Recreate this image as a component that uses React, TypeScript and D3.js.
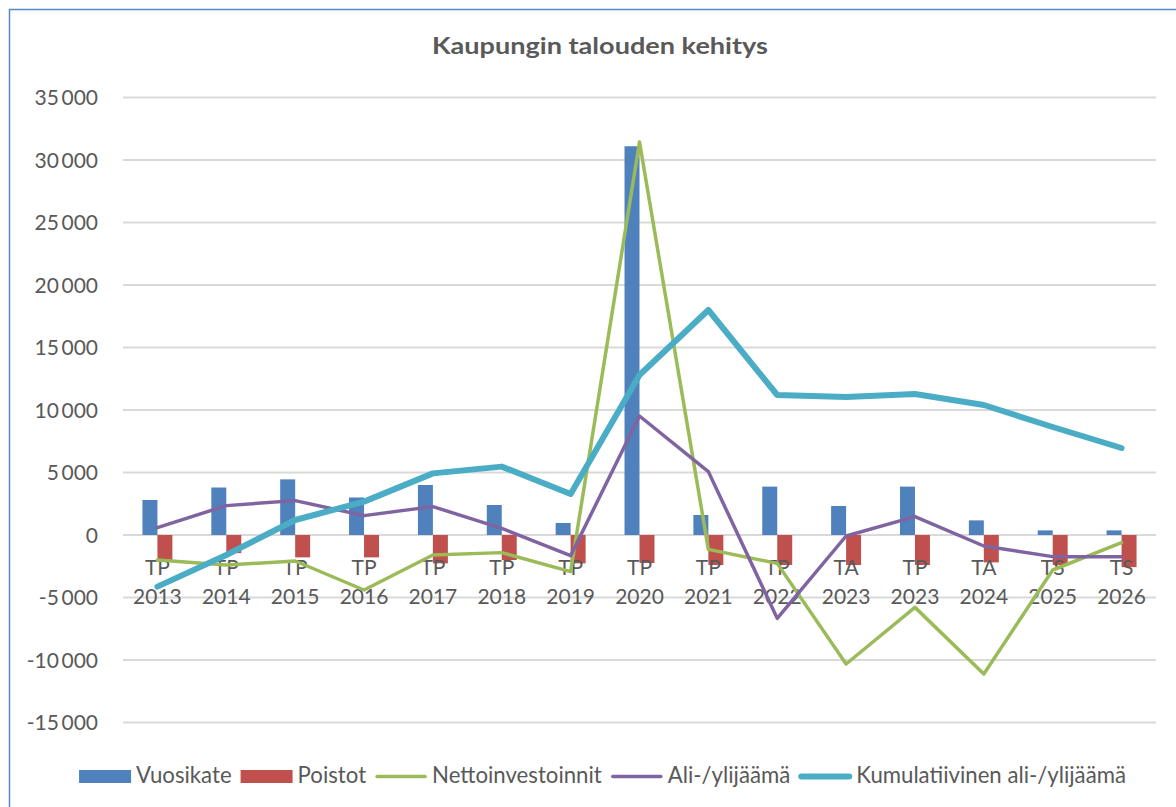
import React, { useRef, useEffect } from "react";
import * as d3 from "d3";

const periods = ["TP", "TP", "TP", "TP", "TP", "TP", "TP", "TP", "TP", "TP", "TA", "TP", "TA", "TS", "TS"];
const years = ["2013", "2014", "2015", "2016", "2017", "2018", "2019", "2020", "2021", "2022", "2023", "2023", "2024", "2025", "2026"];

const vuosikate = [2800, 3800, 4450, 3000, 4000, 2400, 960, 31100, 1600, 3870, 2320, 3870, 1170, 370, 370];
const poistot = [-2100, -1450, -1790, -1790, -2270, -2000, -2270, -2240, -2400, -2400, -2400, -2400, -2190, -2400, -2570];
const nettoinvestoinnit = [-2000, -2400, -2080, -4400, -1600, -1410, -2930, 31440, -1150, -2270, -10320, -5790, -11120, -2800, -610];
const alijaama = [590, 2350, 2750, 1550, 2270, 530, -1650, 9520, 5070, -6670, -80, 1470, -880, -1730, -1730];
const kumulatiivinen = [-4130, -1600, 1200, 2670, 4930, 5470, 3280, 12800, 18000, 11200, 11040, 11280, 10400, 8640, 6960];

const yTicks = [-15000, -10000, -5000, 0, 5000, 10000, 15000, 20000, 25000, 30000, 35000];

const barSeries = [
  { name: "Vuosikate", values: vuosikate, color: "#4F81BD" },
  { name: "Poistot", values: poistot, color: "#C0504D" },
];
const lineSeries = [
  { name: "Nettoinvestoinnit", values: nettoinvestoinnit, color: "#9BBB59", width: 3.5 },
  { name: "Ali-/ylijäämä", values: alijaama, color: "#8064A2", width: 3.5 },
  { name: "Kumulatiivinen ali-/ylijäämä", values: kumulatiivinen, color: "#4BACC6", width: 6 },
];

const W = 1176;
const H = 807;
const FONT = "Lato, 'Open Sans', sans-serif";
const TEXT = "#595959";

export default function App() {
  const ref = useRef<SVGSVGElement | null>(null);

  useEffect(() => {
    if (!ref.current) return;
    const svg = d3.select(ref.current);
    svg.selectAll("*").remove();

    const idx = years.map((_, i) => String(i));
    const x = d3
      .scaleBand()
      .domain(idx)
      .range([123, 1156])
      .paddingInner(0.565)
      .paddingOuter(0.2825);
    const xi = d3
      .scaleBand()
      .domain(barSeries.map((s) => s.name))
      .range([0, x.bandwidth()]);
    const y = d3.scaleLinear().domain([-15000, 35000]).range([722.5, 97.5]);
    const cx = (i: number) => (x(String(i)) as number) + x.bandwidth() / 2;

    const fmt = d3
      .formatLocale({ decimal: ",", thousands: "\u2009", grouping: [3], currency: ["", "€"], minus: "-" })
      .format(",d");

    // frame
    svg
      .append("rect")
      .attr("x", 9.5)
      .attr("y", 9.5)
      .attr("width", W + 20)
      .attr("height", H + 20)
      .attr("fill", "white")
      .attr("stroke", "#5A86C8")
      .attr("stroke-width", 1.5);

    // title
    svg
      .append("text")
      .attr("x", 600)
      .attr("y", 54)
      .attr("text-anchor", "middle")
      .attr("font-family", FONT)
      .attr("font-weight", "bold")
      .attr("font-size", 23)
      .attr("textLength", 336)
      .attr("lengthAdjust", "spacingAndGlyphs")
      .attr("fill", TEXT)
      .text("Kaupungin talouden kehitys");

    // gridlines + y labels
    const grid = svg.append("g");
    grid
      .selectAll("line")
      .data(yTicks)
      .enter()
      .append("line")
      .attr("x1", 123)
      .attr("x2", 1156)
      .attr("y1", (d) => y(d))
      .attr("y2", (d) => y(d))
      .attr("stroke", "#D9D9D9")
      .attr("stroke-width", 2);
    grid
      .selectAll("text")
      .data(yTicks)
      .enter()
      .append("text")
      .attr("x", 98)
      .attr("y", (d) => y(d))
      .attr("dy", "0.36em")
      .attr("text-anchor", "end")
      .attr("font-family", FONT)
      .attr("font-size", 21)
      .attr("fill", TEXT)
      .text((d) => fmt(d));

    // bars
    barSeries.forEach((s) => {
      svg
        .append("g")
        .selectAll("rect")
        .data(s.values)
        .enter()
        .append("rect")
        .attr("x", (_, i) => (x(String(i)) as number) + (xi(s.name) as number))
        .attr("width", xi.bandwidth())
        .attr("y", (d) => y(Math.max(0, d)))
        .attr("height", (d) => Math.abs(y(d) - y(0)))
        .attr("fill", s.color);
    });

    // category labels
    const cat = svg.append("g").attr("font-family", FONT).attr("font-size", 21).attr("fill", TEXT);
    cat
      .selectAll("text")
      .data(years)
      .enter()
      .append("text")
      .attr("text-anchor", "middle")
      .each(function (d, i) {
        const t = d3.select(this);
        t.append("tspan").attr("x", cx(i)).attr("y", 574.5).text(periods[i]);
        t.append("tspan").attr("x", cx(i)).attr("y", 603.5).text(d);
      });

    // lines
    const line = d3
      .line<number>()
      .x((_, i) => cx(i))
      .y((d) => y(d));
    lineSeries.forEach((s) => {
      svg
        .append("path")
        .attr("d", line(s.values))
        .attr("fill", "none")
        .attr("stroke", s.color)
        .attr("stroke-width", s.width)
        .attr("stroke-linejoin", "round")
        .attr("stroke-linecap", "round");
    });

    // legend
    const items = [
      ...barSeries.map((s) => ({ ...s, kind: "bar", width: 0 })),
      ...lineSeries.map((s) => ({ ...s, kind: "line" })),
    ];
    const legend = svg.append("g");
    let pos = 0;
    items.forEach((it) => {
      const g = legend.append("g").attr("transform", `translate(${pos},0)`);
      if (it.kind === "bar") {
        g.append("rect").attr("x", 0).attr("y", 770).attr("width", 52).attr("height", 13).attr("fill", it.color);
      } else {
        g.append("line")
          .attr("x1", 2)
          .attr("x2", 50)
          .attr("y1", 776.5)
          .attr("y2", 776.5)
          .attr("stroke", it.color)
          .attr("stroke-width", it.width)
          .attr("stroke-linecap", "round");
      }
      const t = g
        .append("text")
        .attr("x", 57)
        .attr("y", 783)
        .attr("font-family", FONT)
        .attr("font-size", 22.2)
        .attr("fill", TEXT)
        .text(it.name);
      const w = (t.node() as SVGTextElement).getComputedTextLength();
      pos += 57 + w + 9;
    });
    const total = pos - 9;
    legend.attr("transform", `translate(${602.5 - total / 2},0)`);
  }, []);

  return (
    <svg
      ref={ref}
      width={W}
      height={H}
      style={{ position: "absolute", left: 0, top: 0, display: "block", background: "white" }}
    />
  );
}
